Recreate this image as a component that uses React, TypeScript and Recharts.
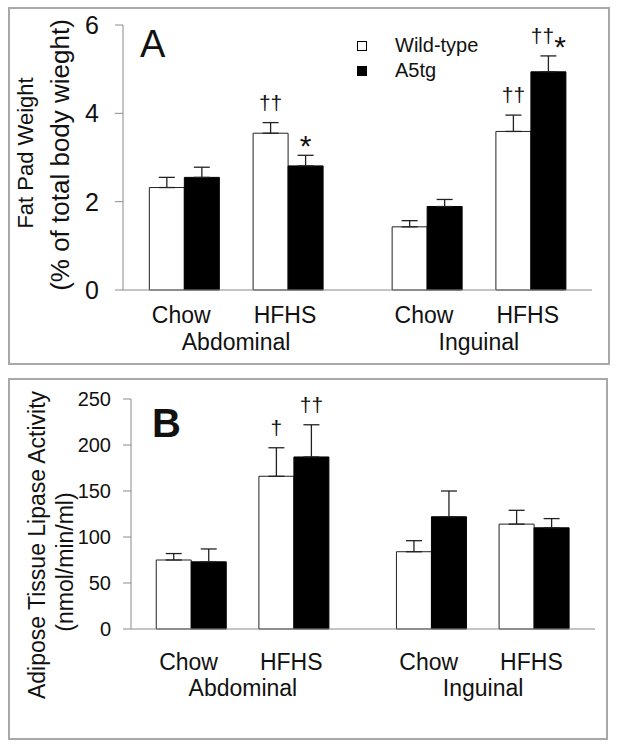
import React from "react";
import { BarChart, Bar, XAxis, YAxis, ErrorBar, LabelList, Legend } from "recharts";

// categories
const dietLabels = ["Chow", "HFHS", "Chow", "HFHS"];
const depotLabels = ["Abdominal", "Inguinal"];
const seriesNames = ["Wild-type", "A5tg"];
const seriesFills = ["#ffffff", "#000000"];

// panel A: fat pad weight (% of body weight)
const fatWildType = [2.32, 3.55, 1.43, 3.59];
const fatWildTypeErr = [0.23, 0.24, 0.14, 0.37];
const fatWildTypeMarks = ["", "††", "", "††"];
const fatA5tg = [2.55, 2.81, 1.89, 4.94];
const fatA5tgErr = [0.23, 0.24, 0.16, 0.36];
const fatA5tgMarks = ["", "*", "", "††*"];
const fatTicks = [0, 2, 4, 6];

// panel B: adipose tissue lipase activity (nmol/min/ml)
const lipWildType = [75, 166, 84, 114];
const lipWildTypeErr = [7, 31, 12, 15];
const lipWildTypeMarks = ["", "†", "", ""];
const lipA5tg = [73, 187, 122, 110];
const lipA5tgErr = [14, 35, 28, 10];
const lipA5tgMarks = ["", "††", "", ""];
const lipTicks = [0, 50, 100, 150, 200, 250];

const FONT = "'Liberation Sans', Arial, sans-serif";
const GROUP_STEP = 2.34;
const X_DOMAIN: [number, number] = [-0.59, 3.93];
const AXIS_GREY = "#8a8a8a";

function buildRows(
  wt: number[], wtErr: number[], wtMarks: string[],
  tg: number[], tgErr: number[], tgMarks: string[]
) {
  return dietLabels.map((diet, i) => ({
    pos: Math.floor(i / 2) * GROUP_STEP + (i % 2),
    diet,
    wt: wt[i],
    wtErr: [0, wtErr[i]],
    wtMark: wtMarks[i],
    tg: tg[i],
    tgErr: [0, tgErr[i]],
    tgMark: tgMarks[i],
  }));
}

const fatRows = buildRows(fatWildType, fatWildTypeErr, fatWildTypeMarks, fatA5tg, fatA5tgErr, fatA5tgMarks);
const lipRows = buildRows(lipWildType, lipWildTypeErr, lipWildTypeMarks, lipA5tg, lipA5tgErr, lipA5tgMarks);

const dietTicks = fatRows.map((r) => r.pos);
const groupTicks = depotLabels.map((_, g) => g * GROUP_STEP + 0.5);

const dietName = (v: number) => {
  const row = fatRows.find((r) => Math.abs(r.pos - v) < 1e-6);
  return row ? row.diet : "";
};
const groupName = (v: number) => {
  const g = groupTicks.findIndex((t) => Math.abs(t - v) < 1e-6);
  return g >= 0 ? depotLabels[g] : "";
};

// significance marks sit above the error bar top
const makeMark = (values: number[], errors: number[]) => (props: any) => {
  const text = props.value as string;
  if (!text) return null;
  const vb = props.viewBox ?? props;
  const i = props.index;
  const perUnit = vb.height / values[i];
  const top = vb.y - errors[i] * perUnit;
  const cx = vb.x + vb.width / 2;
  return (
    <text x={cx} y={top - 13} textAnchor="middle" fontSize={21} fill="#111" fontFamily={FONT}>
      {Array.from(text).map((c, k) =>
        c === "*" ? (
          <tspan key={k} fontSize={30} dy={14}>*</tspan>
        ) : (
          <tspan key={k}>{c}</tspan>
        )
      )}
    </text>
  );
};

const renderLegend = () => (
  <div style={{ fontFamily: FONT, fontSize: 20, lineHeight: "25px", color: "#111" }}>
    {seriesNames.map((name, i) => (
      <div key={name} style={{ display: "flex", alignItems: "center", height: 25 }}>
        <span
          style={{
            width: 10,
            height: 10,
            boxSizing: "border-box",
            border: "1.5px solid #000",
            background: seriesFills[i],
            marginRight: 28,
          }}
        />
        <span>{name}</span>
      </div>
    ))}
  </div>
);

const yTitleA = () => (
  <g fill="#111" fontFamily={FONT}>
    <text x={17} y={146} fontSize={22} textAnchor="middle" dominantBaseline="central" transform="rotate(-90 17 146)">
      Fat Pad Weight
    </text>
    <text x={52} y={148} fontSize={26} textAnchor="middle" dominantBaseline="central" transform="rotate(-90 52 148)">
      (% of total body wieght)
    </text>
    <text x={132} y={50} fontSize={38}>A</text>
  </g>
);

const yTitleB = () => (
  <g fill="#111" fontFamily={FONT}>
    <text x={29} y={167} fontSize={23} textAnchor="middle" dominantBaseline="central" transform="rotate(-90 29 167)">
      Adipose Tissue Lipase Activity
    </text>
    <text x={57} y={184} fontSize={23} textAnchor="middle" dominantBaseline="central" transform="rotate(-90 57 184)">
      (nmol/min/ml)
    </text>
    <text x={144} y={59} fontSize={40} fontWeight="bold">B</text>
  </g>
);

type PanelProps = {
  rows: typeof fatRows;
  width: number;
  height: number;
  margin: { top: number; right: number; left: number; bottom: number };
  yDomain: [number, number];
  yTicks: number[];
  yFont: number;
  yMargin: number;
  dietGap: number;
  dietHeight: number;
  groupGap: number;
  groupHeight: number;
  wt: number[];
  wtErr: number[];
  tg: number[];
  tgErr: number[];
  title: () => React.ReactElement;
  legend?: boolean;
};

function Panel(p: PanelProps) {
  return (
    <BarChart width={p.width} height={p.height} data={p.rows} margin={p.margin} barGap={0}>
      <XAxis
        xAxisId="diet"
        dataKey="pos"
        type="number"
        domain={X_DOMAIN}
        ticks={dietTicks}
        interval={0}
        tickFormatter={dietName}
        height={p.dietHeight}
        tickSize={0}
        tickMargin={p.dietGap}
        tickLine={false}
        axisLine={{ stroke: AXIS_GREY, strokeWidth: 1 }}
        tick={{ fontSize: 23, fill: "#111", dx: -3 }}
      />
      <XAxis
        xAxisId="group"
        dataKey="pos"
        type="number"
        domain={X_DOMAIN}
        ticks={groupTicks}
        interval={0}
        tickFormatter={groupName}
        height={p.groupHeight}
        tickSize={0}
        tickMargin={p.groupGap}
        tickLine={false}
        axisLine={false}
        tick={{ fontSize: 23, fill: "#111" }}
      />
      <YAxis
        width={60}
        domain={p.yDomain}
        ticks={p.yTicks}
        interval={0}
        tickSize={8}
        tickMargin={p.yMargin}
        axisLine={{ stroke: AXIS_GREY, strokeWidth: 1 }}
        tickLine={{ stroke: AXIS_GREY, strokeWidth: 1 }}
        tick={{ fontSize: p.yFont, fill: "#111" }}
        label={{ content: p.title }}
      />
      {p.legend && (
        <Legend
          layout="vertical"
          align="center"
          verticalAlign="middle"
          content={renderLegend}
          wrapperStyle={{ left: 349, top: 26, width: 160 }}
        />
      )}
      <Bar
        xAxisId="diet"
        dataKey="wt"
        name={seriesNames[0]}
        fill={seriesFills[0]}
        stroke="#222"
        strokeWidth={1}
        barSize={35}
        isAnimationActive={false}
      >
        <ErrorBar dataKey="wtErr" width={8} stroke="#222" strokeWidth={1.3} direction="y" isAnimationActive={false} />
        <LabelList dataKey="wtMark" content={makeMark(p.wt, p.wtErr)} />
      </Bar>
      <Bar
        xAxisId="diet"
        dataKey="tg"
        name={seriesNames[1]}
        fill={seriesFills[1]}
        stroke="#000"
        strokeWidth={1}
        barSize={35}
        isAnimationActive={false}
      >
        <ErrorBar dataKey="tgErr" width={8} stroke="#222" strokeWidth={1.3} direction="y" isAnimationActive={false} />
        <LabelList dataKey="tgMark" content={makeMark(p.tg, p.tgErr)} />
      </Bar>
    </BarChart>
  );
}

const boxStyle: React.CSSProperties = {
  position: "absolute",
  boxSizing: "border-box",
  border: "2px solid #a8a8a8",
};

export default function App() {
  return (
    <div style={{ position: "absolute", left: 0, top: 0, width: 620, height: 749, background: "#fff", fontFamily: FONT }}>
      <div style={{ ...boxStyle, left: 8, top: 7, width: 602, height: 358 }} />
      <div style={{ ...boxStyle, left: 8, top: 378, width: 600, height: 362 }} />
      <div style={{ position: "absolute", left: 8, top: 7 }}>
        <Panel
          rows={fatRows}
          width={602}
          height={358}
          margin={{ top: 18, right: 18, left: 55, bottom: 0 }}
          yDomain={[0, 6]}
          yTicks={fatTicks}
          yFont={25}
          yMargin={16}
          dietGap={17}
          dietHeight={30}
          groupGap={14}
          groupHeight={45}
          wt={fatWildType}
          wtErr={fatWildTypeErr}
          tg={fatA5tg}
          tgErr={fatA5tgErr}
          title={yTitleA}
          legend
        />
      </div>
      <div style={{ position: "absolute", left: 8, top: 378 }}>
        <Panel
          rows={lipRows}
          width={600}
          height={362}
          margin={{ top: 21, right: 13, left: 63, bottom: 26 }}
          yDomain={[0, 250]}
          yTicks={lipTicks}
          yFont={20}
          yMargin={12}
          dietGap={25}
          dietHeight={35}
          groupGap={16}
          groupHeight={50}
          wt={lipWildType}
          wtErr={lipWildTypeErr}
          tg={lipA5tg}
          tgErr={lipA5tgErr}
          title={yTitleB}
        />
      </div>
    </div>
  );
}
